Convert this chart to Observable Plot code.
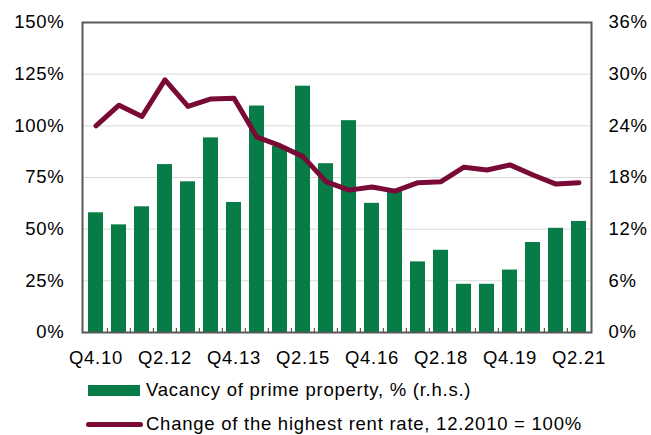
<!DOCTYPE html>
<html>
<head>
<meta charset="utf-8">
<script src="https://cdn.jsdelivr.net/npm/d3@7"></script>
<script src="https://cdn.jsdelivr.net/npm/@observablehq/plot@0.6"></script>
<style>
  html, body { margin: 0; padding: 0; background: #fff; }
  #wrap { position: relative; width: 651px; height: 435px; font-family: "Liberation Sans", Arial, sans-serif; font-size: 18.5px; letter-spacing: 0.75px; color: #000; }
  .sw-bar { position: absolute; width: 52px; height: 11px; }
  .sw-line { position: absolute; width: 57px; height: 5px; border-radius: 3px; }
  .lt { position: absolute; line-height: 20px; white-space: nowrap; }
</style>
</head>
<body>
<div id="wrap"></div>
<script>
const quarters = ["Q4.10","Q2.11","Q4.11","Q2.12","Q4.12","Q2.13","Q4.13","Q2.14","Q4.14","Q2.15","Q4.15","Q2.16","Q4.16","Q2.17","Q4.17","Q2.18","Q4.18","Q2.19","Q4.19","Q2.20","Q4.20","Q2.21"];
const vacancy = [13.9,12.5,14.6,19.5,17.5,22.6,15.1,26.3,21.6,28.6,19.6,24.6,15.0,16.4,8.2,9.55,5.6,5.6,7.25,10.45,12.1,12.9];
const rent = [100,110,104.5,122.2,109.4,113,113.3,94.5,90.4,85.1,73,68.9,70.4,68.4,72.5,73,80,78.6,81.1,76.2,71.8,72.5];
const xLabels = ["Q4.10","Q2.12","Q4.13","Q2.15","Q4.16","Q2.18","Q4.19","Q2.21"];
const leftTicks = [0,25,50,75,100,125,150];
const rightTicks = [0,6,12,18,24,30,36];
const gridValues = [25,50,75,100,125];
const seriesNames = ["Vacancy of prime property, % (r.h.s.)", "Change of the highest rent rate, 12.2010 = 100%"];

const green = "#077c47";
const maroon = "#780a35";
const leftMax = leftTicks[leftTicks.length-1];
const rightMax = rightTicks[rightTicks.length-1];
const k = leftMax / rightMax;

const data = quarters.map((q, i) => ({q, vac: vacancy[i], rent: rent[i]}));

const W = 651, H = 370, mL = 82, mR = 60, mT = 22, mB = 38;
const step = (W - mL - mR) / (quarters.length - 0.35 + 2 * 0.17);

const chart = Plot.plot({
  width: W, height: H,
  marginLeft: mL, marginRight: mR, marginTop: mT, marginBottom: mB,
  style: {fontFamily: "'Liberation Sans', Arial, sans-serif", fontSize: "18.5px", letterSpacing: "0.75px", color: "#000", background: "#fff"},
  x: {domain: quarters, paddingInner: 0.35, paddingOuter: 0.17, label: null},
  y: {domain: [0, leftMax], label: null},
  marks: [
    Plot.ruleY(gridValues, {stroke: "#d9d9d9", strokeWidth: 1}),
    Plot.barY(data, {x: "q", y: d => d.vac * k, fill: green}),
    Plot.ruleX(quarters.slice(1), {x: d => d, y1: 0, y2: 2, dx: -step / 2, stroke: "#595959", strokeWidth: 1.2}),
    Plot.line(data, {x: "q", y: "rent", stroke: maroon, strokeWidth: 5, strokeLinejoin: "round", strokeLinecap: "round"}),
    Plot.frame({stroke: "#595959", strokeWidth: 2}),
    Plot.axisY(leftTicks, {anchor: "left", label: null, tickSize: 0, tickPadding: 18, tickFormat: d => d + "%", fill: "#000"}),
    Plot.axisY(leftTicks, {anchor: "right", label: null, tickSize: 0, tickPadding: 17, tickFormat: d => rightTicks[leftTicks.indexOf(d)] + "%", fill: "#000"}),
    Plot.axisX(xLabels, {anchor: "bottom", label: null, tickSize: 0, tickPadding: 18, fill: "#000"})
  ]
});

const wrap = document.getElementById("wrap");
wrap.appendChild(chart);

// Legend
const l1 = document.createElement("div");
l1.innerHTML = `<div class="sw-bar" style="left:88px;top:385px;background:${green}"></div><div class="lt" style="left:146px;top:380px">${seriesNames[0]}</div>`;
wrap.appendChild(l1);
const l2 = document.createElement("div");
l2.innerHTML = `<div class="sw-line" style="left:86px;top:422px;background:${maroon}"></div><div class="lt" style="left:146px;top:414px">${seriesNames[1]}</div>`;
wrap.appendChild(l2);
</script>
</body>
</html>
